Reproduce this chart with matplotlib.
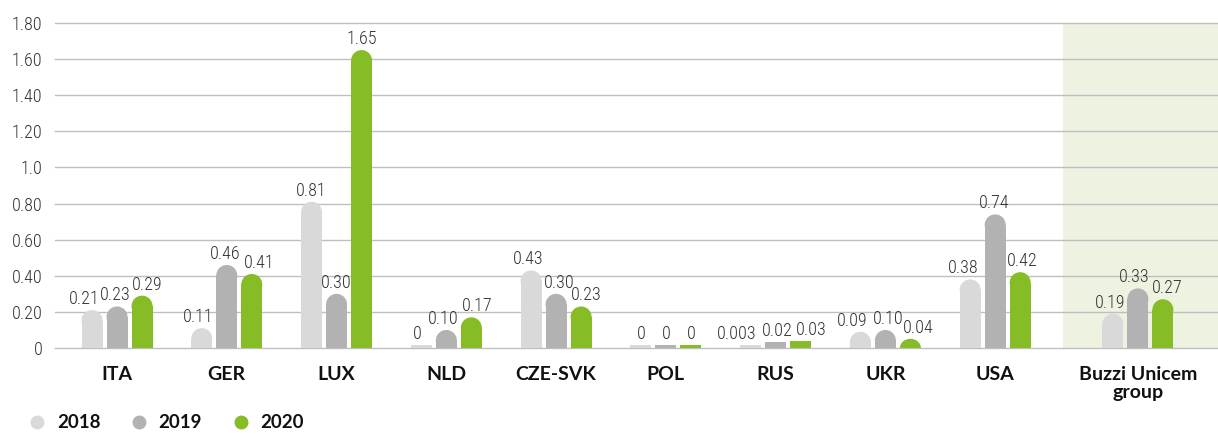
import matplotlib
matplotlib.use("Agg")
import matplotlib.pyplot as plt
from matplotlib import font_manager as fm
from matplotlib.patches import Ellipse
from matplotlib.lines import Line2D
import numpy as np

categories = ["ITA", "GER", "LUX", "NLD", "CZE-SVK", "POL", "RUS", "UKR", "USA", "Buzzi Unicem\ngroup"]
years = ["2018", "2019", "2020"]
v2018 = [0.21, 0.11, 0.81, 0.0, 0.43, 0.0, 0.003, 0.09, 0.38, 0.19]
v2019 = [0.23, 0.46, 0.30, 0.10, 0.30, 0.0, 0.02, 0.10, 0.74, 0.33]
v2020 = [0.29, 0.41, 1.65, 0.17, 0.23, 0.0, 0.03, 0.04, 0.42, 0.27]
l2018 = ["0.21", "0.11", "0.81", "0", "0.43", "0", "0.003", "0.09", "0.38", "0.19"]
l2019 = ["0.23", "0.46", "0.30", "0.10", "0.30", "0", "0.02", "0.10", "0.74", "0.33"]
l2020 = ["0.29", "0.41", "1.65", "0.17", "0.23", "0", "0.03", "0.04", "0.42", "0.27"]
yticks = [0, 0.2, 0.4, 0.6, 0.8, 1.0, 1.2, 1.4, 1.6, 1.8]
ytick_labels = ["0", "0.20", "0.40", "0.60", "0.80", "1.0", "1.20", "1.40", "1.60", "1.80"]

# horizontal nudges of the value labels (pixels), per group, per series
label_dx = [(-8, -2, 5), (-4, -2, 7), (0, 0, 0), (-4, -3, 6), (-3, 3, 5),
            (0, 0, 0), (-14, 2, 11), (-8, 3, 8), (-7, -1, 2), (-3, -4, 4)]

colors = ["#d9d9d9", "#b2b2b2", "#86bc25"]

def pick(cands):
    for c in cands:
        try:
            fm.findfont(fm.FontProperties(family=c), fallback_to_default=False)
            return c
        except Exception:
            pass
    return "DejaVu Sans"

VFONT = pick(["Roboto Condensed", "Liberation Sans Narrow", "Roboto"])
BFONT = "Lato"
TXT = "#333333"

W, H = 1218, 434
fig = plt.figure(figsize=(W / 100, H / 100), dpi=100)
ax_left, ax_right = 55 / W, 1.0
ax_bottom, ax_top = (H - 348) / H, (H - 23) / H
ax = fig.add_axes([ax_left, ax_bottom, ax_right - ax_left, ax_top - ax_bottom])

x = np.arange(len(categories), dtype=float)
x[-1] = 9.30
ax.set_xlim(-0.565, 10.03)
ax.set_ylim(0, 1.8)

px_per_x = (W * (ax_right - ax_left)) / (10.03 + 0.565)
px_per_y = (H * (ax_top - ax_bottom)) / 1.8
bw = 21 / px_per_x
off = 25 / px_per_x
ry = 10.5 / px_per_y
tiny = 2 / px_per_y

ax.axvspan(8.615, 10.2, color="#eef2e1", zorder=0, lw=0)
for t in yticks:
    ax.axhline(t, color="#bfbfbf", lw=1.0, zorder=1, clip_on=False)

series = [v2018, v2019, v2020]
labels = [l2018, l2019, l2020]
for si, (vals, labs) in enumerate(zip(series, labels)):
    xs = x + (si - 1) * off
    for gi, (xi, v, lab) in enumerate(zip(xs, vals, labs)):
        c = colors[si]
        if v >= ry:
            ax.bar(xi, v - ry, width=bw, color=c, zorder=2, lw=0)
            ax.add_patch(Ellipse((xi, v - ry), bw, 2 * ry, color=c, zorder=2, lw=0))
            top = v
        elif v > 0.035:
            ax.add_patch(Ellipse((xi, 0), bw, 2 * (v + tiny), color=c, zorder=2, lw=0))
            top = v + tiny
        else:
            top = max(v + tiny, 0.017)
            ax.bar(xi, top, width=bw, color=c, zorder=2, lw=0)
        ax.text(xi + label_dx[gi][si] / px_per_x, top + 6 / px_per_y, lab,
                ha="center", va="baseline", fontsize=13, fontfamily=VFONT,
                fontweight="light", color=TXT, zorder=3)

for s in ax.spines.values():
    s.set_visible(False)
ax.set_yticks(yticks)
ax.set_yticklabels(ytick_labels, fontsize=13, fontfamily=VFONT, fontweight="light", color=TXT)
ax.tick_params(axis="y", length=0, pad=9)
ax.set_xticks(x)
ax.set_xticklabels(categories, fontsize=14, fontfamily=BFONT, fontweight="bold", color="#111111",
                   linespacing=1.05)
ax.tick_params(axis="x", length=0, pad=13)

handles = [Line2D([], [], marker="o", ls="none", markersize=9, markerfacecolor=c,
                  markeredgecolor=c) for c in colors]
leg = fig.legend(handles, years, loc="center left", bbox_to_anchor=(11 / W, 1 - 423 / H),
                 ncol=3, frameon=False, handletextpad=0.55, columnspacing=1.55,
                 handlelength=1.0, prop={"family": BFONT, "weight": "bold", "size": 13.5})
for t in leg.get_texts():
    t.set_color("#111111")

fig.savefig("out.png", dpi=100)
